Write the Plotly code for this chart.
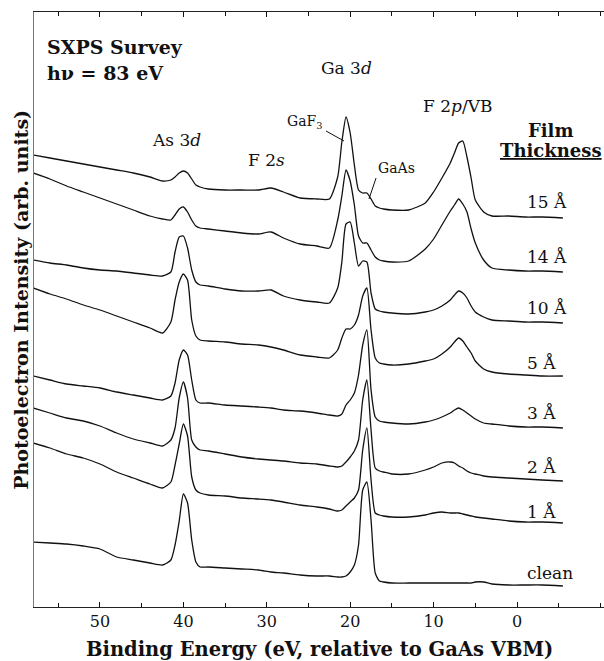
import plotly.graph_objects as go

# Binding energy grid (eV, relative to GaAs VBM)
binding_energy = [58, 56, 54, 52, 50, 48, 46, 44, 42.5, 41.5, 41, 40.5, 40, 39.5, 39, 38.5, 38,
                  37, 35, 33, 31, 29.5, 28, 26, 24, 22.5, 21.5, 21, 20.5, 20, 19.5, 19, 18.5, 18,
                  17.5, 17, 16.5, 16, 15, 13, 11, 10, 9, 8, 7.5, 7, 6.5, 6, 5.5, 5, 4, 3, 1, -1, -3, -5.5]

# Stacked photoelectron intensities (arb. units, offsets included)
film_15A = [452, 449, 446, 443, 440, 437, 434, 430, 426, 427, 430, 434, 436, 434, 428, 422, 420,
            418, 417, 417, 417, 419, 415, 409, 408, 408, 430, 465, 490, 474, 442, 417, 414, 414,
            408, 401, 399, 398, 397, 397, 404, 415, 429, 444, 454, 464, 466, 450, 429, 407, 395,
            391, 391, 390, 390, 389]
film_14A = [434, 428, 421, 415, 409, 403, 397, 391, 388, 387, 392, 398, 400, 395, 387, 381, 379,
            378, 376, 374, 373, 375, 369, 363, 361, 359, 387, 411, 437, 426, 402, 371, 364, 364,
            357, 350, 347, 346, 345, 346, 358, 368, 382, 396, 402, 408, 403, 395, 378, 364, 347,
            339, 337, 336, 336, 335]
film_10A = [347, 344, 342, 339, 337, 336, 334, 332, 331, 335, 355, 370, 371, 359, 337, 325, 322,
            321, 318, 316, 316, 317, 311, 307, 305, 304, 319, 345, 383, 385, 364, 341, 346, 345,
            314, 298, 296, 295, 294, 293, 295, 297, 301, 307, 312, 316, 314, 309, 301, 295, 290,
            287, 286, 285, 285, 284]
film_5A = [319, 313, 308, 302, 297, 291, 285, 279, 274, 285, 307, 325, 333, 327, 287, 271, 267,
           266, 265, 263, 262, 260, 257, 252, 250, 249, 257, 269, 278, 278, 282, 292, 311, 319,
           277, 249, 244, 243, 242, 243, 246, 248, 253, 260, 265, 269, 266, 260, 254, 246, 238,
           235, 233, 232, 231, 231]
film_3A = [231, 227, 223, 221, 219, 215, 212, 209, 207, 211, 224, 247, 257, 252, 227, 207, 204,
           204, 202, 201, 200, 199, 197, 196, 194, 192, 191, 193, 202, 207, 214, 232, 262, 277,
           217, 190, 186, 185, 184, 183, 185, 187, 190, 194, 197, 199, 197, 194, 191, 188, 184,
           183, 181, 180, 180, 179]
film_2A = [199, 194, 189, 186, 181, 174, 168, 164, 161, 167, 179, 209, 225, 209, 167, 160, 157,
           156, 153, 150, 148, 147, 146, 144, 143, 141, 140, 141, 145, 150, 156, 167, 207, 227,
           177, 139, 136, 135, 133, 133, 137, 140, 144, 145, 144, 141, 139, 136, 134, 133, 131,
           130, 129, 128, 127, 126]
film_1A = [164, 159, 153, 149, 143, 135, 129, 123, 119, 125, 142, 163, 183, 171, 130, 117, 114,
           112, 111, 109, 108, 107, 105, 102, 100, 98, 96, 97, 101, 105, 109, 117, 157, 179,
           127, 94, 92, 91, 90, 90, 92, 94, 95, 94, 94, 94, 93, 92, 91, 90, 89, 88, 86, 85, 85, 84]
clean = [65, 64, 63, 61, 58, 50, 47, 44, 42, 47, 62, 86, 113, 104, 67, 45, 40,
         40, 39, 38, 37, 35, 34, 32, 31, 31, 30, 30, 31, 35, 42, 62, 117, 125,
         87, 34, 26, 25, 24, 24, 24, 24, 24, 24, 24, 24, 24, 24, 24, 25, 25, 23, 22, 22, 22, 21]

spectra = [film_15A, film_14A, film_10A, film_5A, film_3A, film_2A, film_1A, clean]
thickness_labels = ["15 Å", "14 Å", "10 Å", "5 Å", "3 Å", "2 Å", "1 Å", "clean"]
label_levels = [405, 350, 299, 244, 194, 140, 95, 34]

x_ticks = [50, 40, 30, 20, 10, 0]

SERIF = "DejaVu Serif"
INK = "#111111"

fig = go.Figure()
for ys, name in zip(spectra, thickness_labels):
    fig.add_trace(go.Scatter(x=binding_energy, y=ys, mode="lines", name=name,
                             line=dict(color=INK, width=1.3, shape="spline", smoothing=0.6),
                             hoverinfo="skip"))

annotations = []
for name, lvl in zip(thickness_labels, label_levels):
    annotations.append(dict(x=-0.96, y=lvl, xref="x", yref="y", text=name, showarrow=False,
                            xanchor="left", yanchor="middle",
                            font=dict(family=SERIF, size=17, color=INK)))

peak_labels = [
    (56.6, 560, "<b>SXPS Survey</b>", 19, "left"),
    (56.6, 534, "<b>hν = 83 eV</b>", 19, "left"),
    (40.8, 467, "As 3<i>d</i>", 17, "center"),
    (30.0, 447, "F 2<i>s</i>", 17, "center"),
    (20.5, 539, "Ga 3<i>d</i>", 17, "center"),
    (25.5, 485, "GaF<sub>3</sub>", 14, "center"),
    (14.4, 439, "GaAs", 14, "center"),
    (7.1, 501, "F 2<i>p</i>/VB", 17, "center"),
    (-4.1, 477, "<b>Film</b>", 18, "center"),
    (-4.1, 457, "<b><u>Thickness</u></b>", 18, "center"),
]
for x, y, t, s, anc in peak_labels:
    annotations.append(dict(x=x, y=y, xref="x", yref="y", text=t, showarrow=False,
                            xanchor=anc, yanchor="middle",
                            font=dict(family=SERIF, size=s, color=INK)))

# axis titles
annotations.append(dict(x=0.5, y=-0.072, xref="paper", yref="paper",
                        text="<b>Binding Energy (eV, relative to GaAs VBM)</b>",
                        showarrow=False, xanchor="center", yanchor="middle",
                        font=dict(family=SERIF, size=19.5, color=INK)))
annotations.append(dict(x=-0.023, y=0.516, xref="paper", yref="paper",
                        text="<b>Photoelectron Intensity (arb. units)</b>", textangle=-90,
                        showarrow=False, xanchor="center", yanchor="middle",
                        font=dict(family=SERIF, size=19, color=INK)))

# leader lines for the GaF3 / GaAs components
shapes = [
    dict(type="line", xref="x", yref="y", x0=22.9, y0=476, x1=20.74, y1=466,
         line=dict(color=INK, width=1)),
    dict(type="line", xref="x", yref="y", x0=16.9, y0=429, x1=17.75, y1=408,
         line=dict(color=INK, width=1)),
]

fig.update_layout(
    width=604, height=661,
    margin=dict(l=34, r=0, t=12, b=54),
    plot_bgcolor="white", paper_bgcolor="white",
    showlegend=False,
    annotations=annotations, shapes=shapes,
    font=dict(family=SERIF, color=INK),
)
fig.update_xaxes(range=[57.91, -10.43], tickvals=x_ticks, ticks="inside", ticklen=5,
                 tickwidth=1, tickcolor=INK,
                 minor=dict(dtick=5, tick0=0, ticks="inside", ticklen=4, tickcolor=INK),
                 showline=True, linecolor="#222222", linewidth=1.2, mirror="ticks",
                 showgrid=False, zeroline=False,
                 tickfont=dict(family=SERIF, size=16, color=INK))
fig.update_yaxes(range=[0, 595], showticklabels=False, ticks="", showline=True,
                 linecolor="#777777", linewidth=1, mirror=True,
                 showgrid=False, zeroline=False)

fig.write_html("out.html", config={"displayModeBar": False},
               post_script="document.body.style.margin='0px';")
